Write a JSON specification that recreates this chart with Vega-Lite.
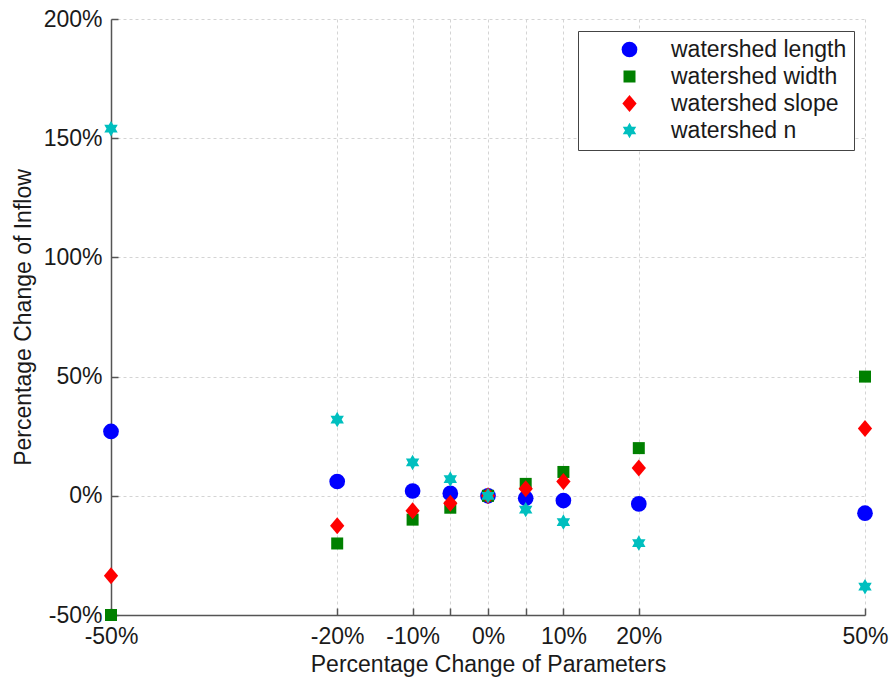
{
  "$schema": "https://vega.github.io/schema/vega-lite/v6.json",
  "autosize": {"type": "none"},
  "padding": {"left": 111, "top": 19, "right": 27, "bottom": 64},
  "width": 754,
  "height": 596,
  "background": "white",
  "config": {
    "font": "Liberation Sans",
    "view": {"stroke": null},
    "axis": {
      "domainColor": "#555555",
      "domainWidth": 1.5,
      "tickColor": "#555555",
      "tickWidth": 1.5,
      "tickSize": -7,
      "labelFontSize": 23,
      "labelColor": "#1a1a1a",
      "titleFontSize": 23,
      "titleFontWeight": "normal",
      "titleColor": "#1a1a1a",
      "gridColor": "#d4d4d4",
      "gridDash": [3, 3],
      "gridWidth": 1
    },
    "legend": {
      "orient": "none",
      "legendX": 467,
      "legendY": 12,
      "padding": 7,
      "fillColor": "white",
      "strokeColor": "#444444",
      "labelFontSize": 23,
      "labelLimit": 400,
      "labelColor": "#1a1a1a",
      "labelOffset": 30,
      "symbolOffset": 33,
      "rowPadding": 3,
      "symbolStrokeWidth": 0
    }
  },
  "data": {
    "values": [
      {"param": "watershed length", "x": -50, "y": 27},
      {"param": "watershed length", "x": -20, "y": 6},
      {"param": "watershed length", "x": -10, "y": 2},
      {"param": "watershed length", "x": -5, "y": 1},
      {"param": "watershed length", "x": 0, "y": 0},
      {"param": "watershed length", "x": 5, "y": -1},
      {"param": "watershed length", "x": 10, "y": -2},
      {"param": "watershed length", "x": 20, "y": -3.4},
      {"param": "watershed length", "x": 50, "y": -7.3},
      {"param": "watershed width", "x": -50, "y": -50},
      {"param": "watershed width", "x": -20, "y": -20},
      {"param": "watershed width", "x": -10, "y": -10},
      {"param": "watershed width", "x": -5, "y": -5},
      {"param": "watershed width", "x": 0, "y": 0},
      {"param": "watershed width", "x": 5, "y": 5},
      {"param": "watershed width", "x": 10, "y": 10},
      {"param": "watershed width", "x": 20, "y": 20},
      {"param": "watershed width", "x": 50, "y": 50},
      {"param": "watershed slope", "x": -50, "y": -33.5},
      {"param": "watershed slope", "x": -20, "y": -12.6},
      {"param": "watershed slope", "x": -10, "y": -6.3},
      {"param": "watershed slope", "x": -5, "y": -3.1},
      {"param": "watershed slope", "x": 0, "y": 0},
      {"param": "watershed slope", "x": 5, "y": 3},
      {"param": "watershed slope", "x": 10, "y": 6},
      {"param": "watershed slope", "x": 20, "y": 11.7},
      {"param": "watershed slope", "x": 50, "y": 28.2},
      {"param": "watershed n", "x": -50, "y": 154},
      {"param": "watershed n", "x": -20, "y": 32},
      {"param": "watershed n", "x": -10, "y": 14},
      {"param": "watershed n", "x": -5, "y": 7},
      {"param": "watershed n", "x": 0, "y": 0},
      {"param": "watershed n", "x": 5, "y": -5.8},
      {"param": "watershed n", "x": 10, "y": -11},
      {"param": "watershed n", "x": 20, "y": -19.8},
      {"param": "watershed n", "x": 50, "y": -38.1}
    ]
  },
  "mark": {"type": "point", "filled": true, "opacity": 1, "strokeWidth": 0},
  "encoding": {
    "x": {
      "field": "x",
      "type": "quantitative",
      "scale": {"domain": [-50, 50], "nice": false, "zero": false},
      "axis": {
        "values": [-50, -20, -10, -5, 0, 5, 10, 20, 50],
        "labelExpr": "datum.value == -5 || datum.value == 5 ? '' : datum.value + '%'",
        "labelPadding": 17,
        "labelFlush": false,
        "labelOverlap": false,
        "title": "Percentage Change of Parameters",
        "titlePadding": 5
      }
    },
    "y": {
      "field": "y",
      "type": "quantitative",
      "scale": {"domain": [-50, 200], "nice": false, "zero": false},
      "axis": {
        "values": [-50, 0, 50, 100, 150, 200],
        "labelExpr": "datum.value + '%'",
        "labelPadding": 16,
        "labelFlush": false,
        "labelOverlap": false,
        "title": "Percentage Change of Inflow",
        "titlePadding": 8
      }
    },
    "color": {
      "field": "param",
      "type": "nominal",
      "sort": null,
      "scale": {
        "domain": ["watershed length", "watershed width", "watershed slope", "watershed n"],
        "range": ["#0000ff", "#008000", "#ff0000", "#00bfbf"]
      },
      "legend": {"title": null}
    },
    "shape": {
      "field": "param",
      "type": "nominal",
      "sort": null,
      "scale": {
        "domain": ["watershed length", "watershed width", "watershed slope", "watershed n"],
        "range": [
          "circle",
          "square",
          "M0,-1L0.84,0L0,1L-0.84,0Z",
          "M0,-1L0.289,-0.5L0.866,-0.5L0.577,0L0.866,0.5L0.289,0.5L0,1L-0.289,0.5L-0.866,0.5L-0.577,0L-0.866,-0.5L-0.289,-0.5Z"
        ]
      },
      "legend": {"title": null}
    },
    "size": {
      "field": "param",
      "type": "nominal",
      "sort": null,
      "scale": {
        "type": "ordinal",
        "domain": ["watershed length", "watershed width", "watershed slope", "watershed n"],
        "range": [246, 144, 289, 240]
      },
      "legend": {"title": null}
    }
  }
}
